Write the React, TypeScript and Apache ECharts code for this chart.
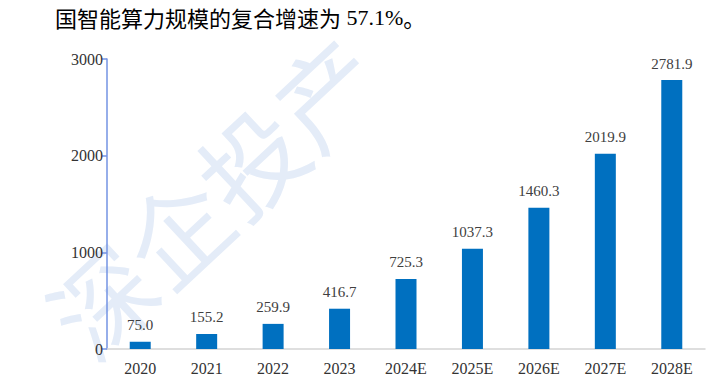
import React, { useEffect, useRef } from "react";
import * as echarts from "echarts";

const categories = ["2020", "2021", "2022", "2023", "2024E", "2025E", "2026E", "2027E", "2028E"];
const values = [75.0, 155.2, 259.9, 416.7, 725.3, 1037.3, 1460.3, 2019.9, 2781.9];
const yTicks = { min: 0, max: 3000, interval: 1000 };
const headline = "国智能算力规模的复合增速为 57.1%。";
const watermark = "深企投产";

// split headline into CJK and Latin runs for rich text styling
const richHeadline = headline
  .split(/([\x20-\x7e]+)/)
  .filter((s) => s.length > 0)
  .map((s) => (/^[\x20-\x7e]+$/.test(s) ? `{n|${s}}` : `{c|${s}}`))
  .join("");

export default function App() {
  const ref = useRef<HTMLDivElement>(null);
  useEffect(() => {
    document.body.style.margin = "0";
    const chart = echarts.init(ref.current!, null, { renderer: "svg" });
    chart.setOption({
      animation: false,
      backgroundColor: "#ffffff",
      graphic: [
        {
          type: "text",
          x: 212,
          y: 194,
          z: -10,
          rotation: (43 * Math.PI) / 180,
          style: {
            text: watermark,
            fontFamily: "Noto Sans CJK SC",
            fontWeight: "normal",
            fontSize: 102,
            fill: "#e4ecf8",
            align: "center",
            verticalAlign: "middle",
          },
        },
        {
          type: "text",
          x: 55,
          y: 17,
          z: 10,
          style: {
            text: richHeadline,
            align: "left",
            verticalAlign: "middle",
            rich: {
              c: { fontFamily: "Noto Sans CJK SC", fontSize: 22, fill: "#000000" },
              n: { fontFamily: "Liberation Serif", fontSize: 22, fill: "#000000" },
            },
          },
        },
      ],
      grid: { left: 107, right: 5, top: 59, bottom: 42, containLabel: false },
      xAxis: {
        type: "category",
        data: categories,
        axisLine: { show: true, lineStyle: { color: "#d4d4d4", width: 1.5 } },
        axisTick: { show: false },
        axisLabel: {
          color: "#333333",
          fontFamily: "Liberation Serif",
          fontSize: 16,
          margin: 11,
        },
      },
      yAxis: {
        type: "value",
        min: yTicks.min,
        max: yTicks.max,
        interval: yTicks.interval,
        axisLine: { show: true, lineStyle: { color: "#7393e3", width: 1.5 } },
        axisTick: { show: true, length: 5, lineStyle: { color: "#7393e3", width: 1.5 } },
        splitLine: { show: false },
        axisLabel: {
          color: "#333333",
          fontFamily: "Liberation Serif",
          fontSize: 16,
          margin: 4,
          formatter: (v: number) => String(v),
        },
      },
      series: [
        {
          type: "bar",
          data: values,
          barWidth: 21,
          itemStyle: { color: "#0070c0" },
          label: {
            show: true,
            position: "top",
            distance: 9,
            color: "#404040",
            fontFamily: "Liberation Serif",
            fontSize: 15,
            formatter: (p: any) => Number(p.value).toFixed(1),
          },
        },
      ],
    });
    return () => chart.dispose();
  }, []);
  return <div ref={ref} style={{ width: 710, height: 391 }} />;
}
